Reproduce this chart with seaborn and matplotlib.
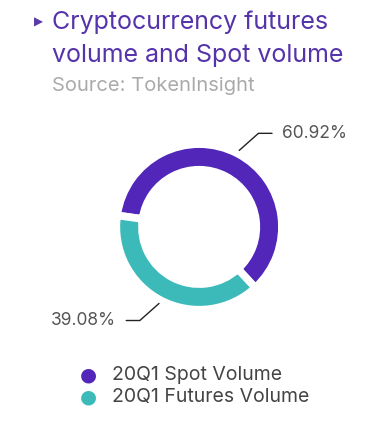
import numpy as np
import seaborn as sns
import matplotlib.pyplot as plt

labels = ['20Q1 Spot Volume', '20Q1 Futures Volume']
shares = [60.92, 39.08]
pct_labels = ['60.92%', '39.08%']
colors = ['#5126b8', '#3cb9b9']

sns.set_theme(style='white')
plt.rcParams['font.family'] = ['Inter', 'DejaVu Sans']

fig = plt.figure(figsize=(3.75, 4.21), dpi=100)
H = 421.0

# title block
fig.text(38 / 375, 1 - 22 / H, '\u25B6', color='#5a3aa8', fontsize=8.5, va='center',
         ha='center', family=['DejaVu Sans'])
fig.text(52 / 375, 1 - 29 / H, 'Cryptocurrency futures', color='#5533aa',
         fontsize=18, va='baseline')
fig.text(52 / 375, 1 - 62 / H, 'volume and Spot volume', color='#5533aa',
         fontsize=18, va='baseline')
fig.text(52 / 375, 1 - 91 / H, 'Source: TokenInsight', color='#aaaaaa',
         fontsize=14.5, va='baseline')

# donut
ax = fig.add_axes([0.531 - 0.2667 * 0.8, 0.461 - 0.2375 * 0.8, 0.2667 * 1.6, 0.2375 * 1.6])
start = 172
wedges, _ = ax.pie(shares, colors=colors, startangle=start, counterclock=False,
                   radius=1.035, wedgeprops=dict(width=0.32, edgecolor='white', linewidth=5.5))
ax.set_xlim(-1.0, 1.0)
ax.set_ylim(-1.0, 1.0)
ax.set_aspect('equal')
ax.axis('off')

for w, txt in zip(wedges, pct_labels):
    mid = np.deg2rad((w.theta1 + w.theta2) / 2)
    x0, y0 = 1.08 * np.cos(mid), 1.08 * np.sin(mid)
    y1 = 1.17 * np.sign(y0)
    x1 = x0 + 0.24 * np.sign(x0)
    x2 = x1 + 0.17 * np.sign(x0)
    ax.plot([x0, x1, x2], [y0, y1, y1], color='#222222', lw=1.0, clip_on=False)
    ax.text(x2 + 0.13 * np.sign(x0), y1, txt, ha='left' if x0 > 0 else 'right',
            va='center', fontsize=12.5, color='#555555', clip_on=False)

# legend
for i, (lab, c) in enumerate(zip(labels, colors)):
    y = 1 - (375 + 22 * i) / H
    fig.text(88 / 375, y, '\u25CF', color=c, fontsize=14, ha='center', va='center',
             family=['DejaVu Sans'])
    fig.text(112 / 375, y, lab, color='#444444', fontsize=14, va='center')

fig.savefig('out.png', dpi=100, facecolor='white')
